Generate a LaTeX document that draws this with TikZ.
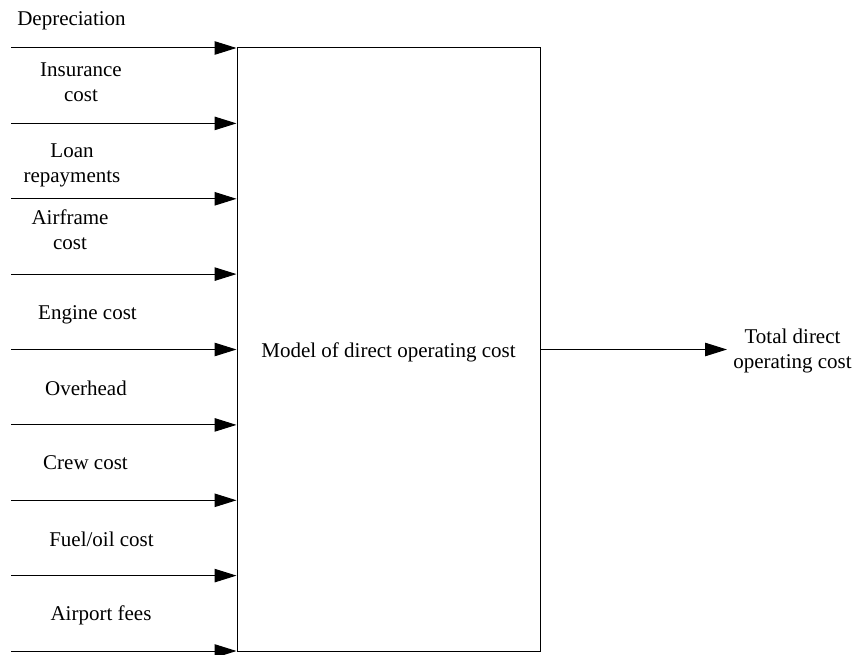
\documentclass[tikz,border=0pt]{standalone}
\usepackage{fontspec}
\setmainfont{Liberation Serif}
\usetikzlibrary{arrows.meta}
\begin{document}
\begin{tikzpicture}[x=1pt,y=-1pt,
  lbl/.style={inner sep=0pt,align=center,font=\fontsize{21}{25}\selectfont},
  blbl/.style={lbl,anchor=base},
  arr/.style={line width=1pt,-{Triangle[length=22pt,width=13.5pt]}},
  modelbox/.style={draw,line width=1pt,inner sep=0pt,minimum width=303pt,minimum height=603pt}]
\useasboundingbox (0,0) rectangle (859,655);
\node[modelbox] (box) at (388.5,349.5) {};
\node[blbl] (model) at (388.5,357) {Model of direct operating cost};
% input start points
\foreach \i/\y in {1/48,2/123.4,3/198.8,4/274.1,5/349.5,6/424.9,7/500.3,8/575.6,9/651}{
  \coordinate (s\i) at (11,\y);
  \draw[arr] (s\i) -- (s\i -| box.west);
}
% labels
\node[blbl] (l1) at (71.5,26) {Depreciation};
\node[lbl] (l2) at (81,82.6) {Insurance\\cost};
\node[lbl] (l3) at (72,164.9) {Loan\\repayments};
\node[lbl] (l4) at (70,229.9) {Airframe\\cost};
\node[blbl] (l5) at (87.5,319) {Engine cost};
\node[blbl] (l6) at (86,395) {Overhead};
\node[blbl] (l7) at (85.5,469) {Crew cost};
\node[blbl] (l8) at (101.5,546) {Fuel/oil cost};
\node[blbl] (l9) at (101,620) {Airport fees};
% output
\node[lbl] (out) at (792.5,350.6) {Total direct\\operating cost};
\coordinate (tipout) at (727,349.5);
\draw[arr] (box.east) -- (tipout);
\end{tikzpicture}
\end{document}
